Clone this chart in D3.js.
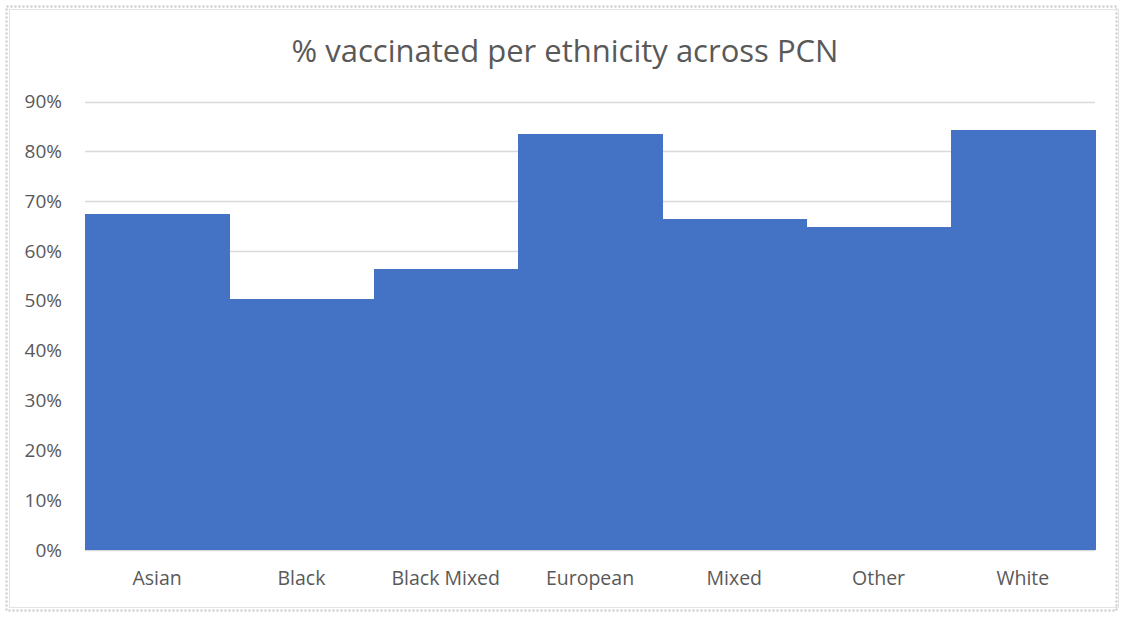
<!DOCTYPE html>
<html>
<head>
<meta charset="utf-8">
<script src="https://cdn.jsdelivr.net/npm/d3@7"></script>
<style>
  html, body { margin: 0; padding: 0; background: #fff; }
  svg { display: block; }
</style>
</head>
<body>
<svg id="chart" width="1123" height="617"></svg>
<script>
// Share of people vaccinated, by ethnicity, across the PCN
const categories = ["Asian", "Black", "Black Mixed", "European", "Mixed", "Other", "White"];
const vaccinated = [0.674, 0.504, 0.564, 0.835, 0.664, 0.649, 0.842];
const yTicks = [0, 0.1, 0.2, 0.3, 0.4, 0.5, 0.6, 0.7, 0.8, 0.9];
const title = "% vaccinated per ethnicity across PCN";

const W = 1123, H = 617;
const margin = { top: 101.5, right: 28, bottom: 67, left: 85 };
const svg = d3.select("#chart");
const font = "'Open Sans', 'Noto Sans', sans-serif";
const textColor = "#595959";

// outer frame: dotted edge plus thin solid chart-area border
svg.append("rect")
  .attr("x", 6.5).attr("y", 6.5).attr("width", W - 13).attr("height", H - 13)
  .attr("fill", "none").attr("stroke", "#c8c8c8").attr("stroke-width", 2)
  .attr("stroke-dasharray", "2,2");
svg.append("rect")
  .attr("x", 9.5).attr("y", 9.5).attr("width", W - 14).attr("height", H - 19)
  .attr("fill", "none").attr("stroke", "#e3e3e3").attr("stroke-width", 1);

const x = d3.scaleBand()
  .domain(categories)
  .range([margin.left, W - margin.right])
  .paddingInner(0).paddingOuter(0);

const y = d3.scaleLinear()
  .domain([0, 0.9])
  .range([H - margin.bottom, margin.top]);

// horizontal gridlines
svg.append("g")
  .selectAll("line")
  .data(yTicks)
  .join("line")
  .attr("x1", margin.left).attr("x2", W - margin.right)
  .attr("y1", d => Math.round(y(d)) + 0.5).attr("y2", d => Math.round(y(d)) + 0.5)
  .attr("stroke", "#d9d9d9").attr("stroke-width", 1.3);

// bars (no gap, so neighbouring bars merge into one stepped shape)
svg.append("g")
  .attr("shape-rendering", "crispEdges")
  .selectAll("rect")
  .data(categories)
  .join("rect")
  .attr("x", d => x(d))
  .attr("width", x.bandwidth() + 1)
  .attr("y", (d, i) => y(vaccinated[i]))
  .attr("height", (d, i) => y(0) - y(vaccinated[i]))
  .attr("fill", "#4472c4");

// y axis labels
const yAxis = d3.axisLeft(y)
  .tickValues(yTicks)
  .tickFormat(d3.format(".0%"))
  .tickSize(0)
  .tickPadding(0);
const gy = svg.append("g")
  .attr("transform", `translate(${margin.left - 23},0)`)
  .call(yAxis);
gy.select(".domain").remove();
gy.selectAll("text")
  .attr("fill", textColor)
  .style("font-family", font)
  .style("font-size", "19px");

// x axis labels
const xAxis = d3.axisBottom(x).tickSize(0).tickPadding(0);
const gx = svg.append("g")
  .attr("transform", `translate(0,${H - margin.bottom + 21})`)
  .call(xAxis);
gx.select(".domain").remove();
gx.selectAll("text")
  .attr("fill", textColor)
  .style("font-family", font)
  .style("font-size", "19.5px");

// title
svg.append("text")
  .attr("x", 565).attr("y", 62)
  .attr("text-anchor", "middle")
  .attr("fill", textColor)
  .style("font-family", font)
  .style("font-size", "31px")
  .text(title);
</script>
</body>
</html>
